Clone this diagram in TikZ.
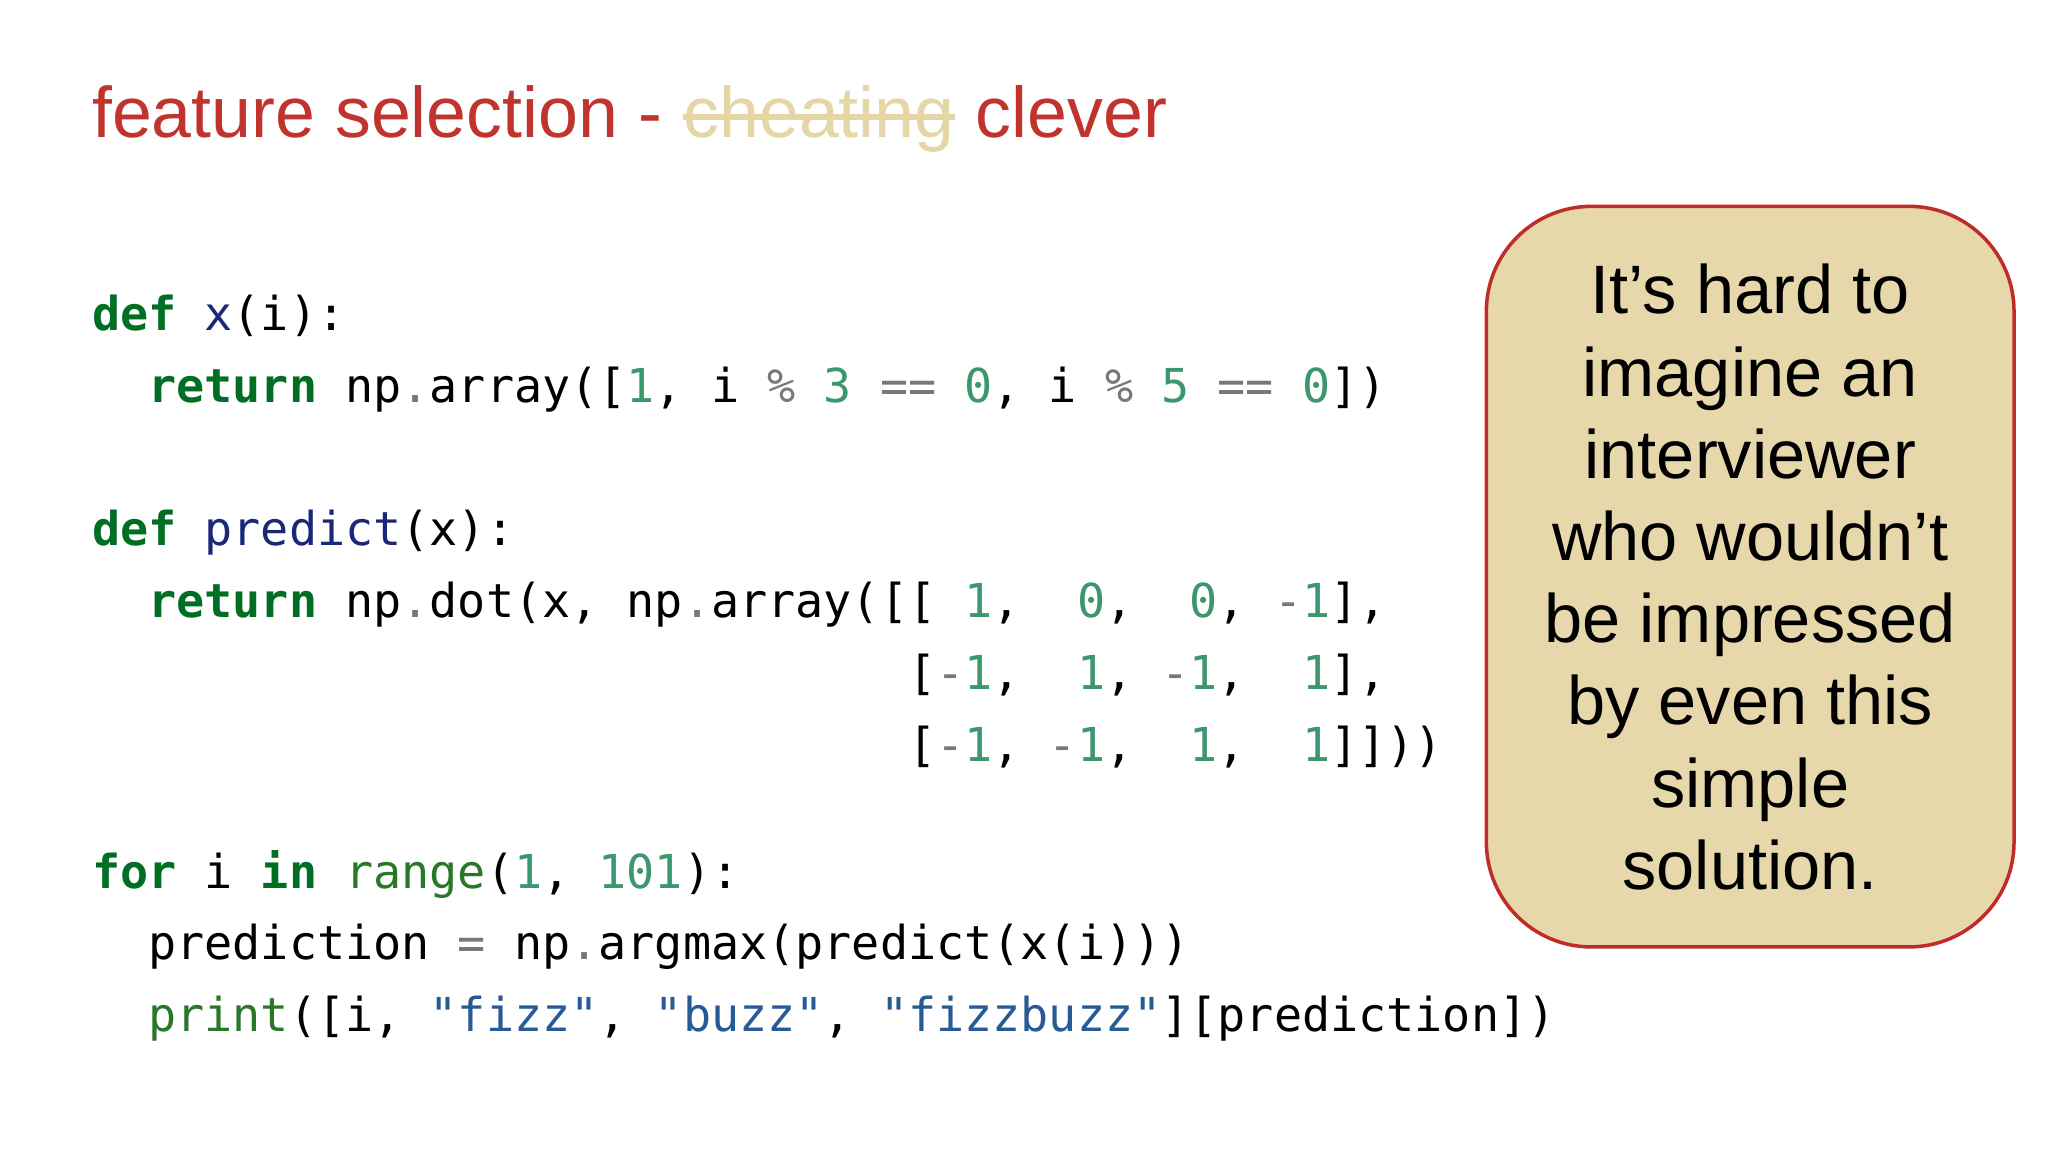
\documentclass[tikz,border=0pt]{standalone}
\usepackage{fontspec}
\setmainfont{Liberation Sans}
\setmonofont{DejaVu Sans Mono}
\definecolor{kw}{RGB}{0,110,35}
\definecolor{fn}{RGB}{25,40,120}
\definecolor{num}{RGB}{60,150,110}
\definecolor{str}{RGB}{40,90,150}
\definecolor{op}{RGB}{120,120,120}
\definecolor{bi}{RGB}{40,120,40}
\definecolor{titred}{RGB}{192,52,45}
\definecolor{tan}{RGB}{228,214,165}
\definecolor{boxfill}{RGB}{231,216,172}
\definecolor{boxline}{RGB}{192,45,40}
\newcommand{\K}[1]{\textcolor{kw}{\textbf{#1}}}
\newcommand{\F}[1]{\textcolor{fn}{#1}}
\newcommand{\N}[1]{\textcolor{num}{#1}}
\newcommand{\Sr}[1]{\textcolor{str}{#1}}
\newcommand{\Op}[1]{\textcolor{op}{#1}}
\newcommand{\B}[1]{\textcolor{bi}{#1}}
\begin{document}
\begin{tikzpicture}[x=0.01306cm,y=-0.01306cm,
  code/.style={anchor=base west,inner sep=0,font=\ttfamily\fontsize{13.3}{15}\selectfont},
  titl/.style={anchor=base west,inner sep=0,font=\fontsize{20.4}{24}\selectfont},
  callout/.style={draw=boxline,line width=1pt,fill=boxfill,rounded corners=1.05cm}]
\path[fill=white] (0,0) rectangle (1568,882);
\useasboundingbox (0,0) rectangle (1568,882);
\node[titl,text=titred] (t1) at (70,105) {feature selection -};
\node[titl,text=tan] (t2) at ([xshift=5.7pt]t1.base east) {cheating};
\node[titl,text=titred] (t3) at ([xshift=5.7pt]t2.base east) {clever};
\draw[tan,line width=1.6pt] ([yshift=0.2cm]t2.base west) -- ([yshift=0.2cm]t2.base east);
\node[code] (l1) at (70,253) {\K{def}~\F{x}(i):};
\node[code] (l2) at (70,308) {~~\K{return}~np\Op{.}array([\N{1},~i~\Op{\%}~\N{3}~\Op{==}~\N{0},~i~\Op{\%}~\N{5}~\Op{==}~\N{0}])};
\node[code] (l3) at (70,418) {\K{def}~\F{predict}(x):};
\node[code] (l4) at (70,473) {~~\K{return}~np\Op{.}dot(x,~np\Op{.}array([[~\N{1},~~\N{0},~~\N{0},~\Op{-}\N{1}],};
\node[code] (l5) at (70,528) {~~~~~~~~~~~~~~~~~~~~~~~~~~~~~[\Op{-}\N{1},~~\N{1},~\Op{-}\N{1},~~\N{1}],};
\node[code] (l6) at (70,583) {~~~~~~~~~~~~~~~~~~~~~~~~~~~~~[\Op{-}\N{1},~\Op{-}\N{1},~~\N{1},~~\N{1}]]))};
\node[code] (l7) at (70,680) {\K{for}~i~\K{in}~\B{range}(\N{1},~\N{101}):};
\node[code] (l8) at (70,735) {~~prediction~\Op{=}~np\Op{.}argmax(predict(x(i)))};
\node[code] (l9) at (70,790) {~~\B{print}([i,~\Sr{"fizz"},~\Sr{"buzz"},~\Sr{"fizzbuzz"}][prediction])};
\draw[callout] (1138,158) rectangle (1542,725);
\node[anchor=base,inner sep=0,align=center,font=\fontsize{19.5}{23.4}\selectfont] (note) at (1340,681)
  {It's hard to\\imagine an\\interviewer\\who wouldn't\\be impressed\\by even this\\simple\\solution.};
\end{tikzpicture}
\end{document}
